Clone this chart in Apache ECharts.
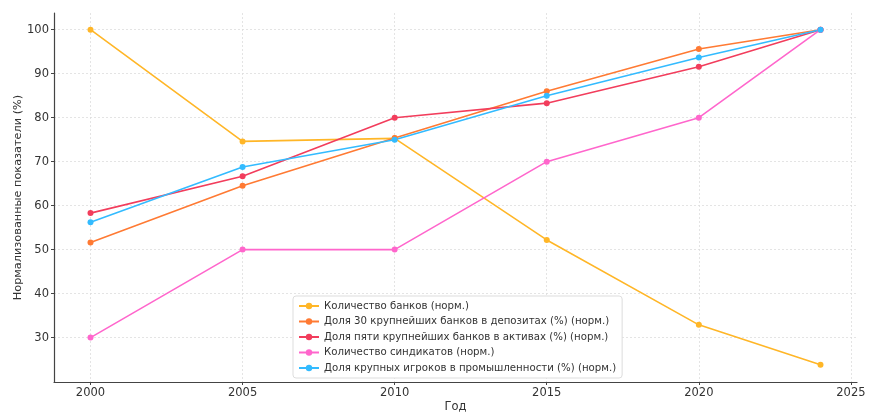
<!DOCTYPE html>
<html><head><meta charset="utf-8">
<script src="https://cdn.jsdelivr.net/npm/echarts@6/dist/echarts.min.js"></script>
<style>html,body{margin:0;padding:0;background:#fff}#c{width:873px;height:413px}</style>
</head><body><div id="c"></div>
<script>
const years = [2000, 2005, 2010, 2015, 2020, 2024];
const banksCount = [100, 74.6, 75.3, 52.2, 32.9, 23.8];
const top30Deposits = [51.6, 64.5, 75.4, 86.0, 95.6, 100];
const top5Assets = [58.3, 66.7, 80.0, 83.3, 91.6, 100];
const syndicates = [30, 50, 50, 70, 80, 100];
const industryLeaders = [56.2, 68.8, 75.0, 85.0, 93.7, 100];
const xTicks = [2000, 2005, 2010, 2015, 2020, 2025];
const yTicks = [30, 40, 50, 60, 70, 80, 90, 100];

const names = [
  'Количество банков (норм.)',
  'Доля 30 крупнейших банков в депозитах (%) (норм.)',
  'Доля пяти крупнейших банков в активах (%) (норм.)',
  'Количество синдикатов (норм.)',
  'Доля крупных игроков в промышленности (%) (норм.)'
];
const colors = ['#FFB627', '#FF7A33', '#F23D5C', '#FF66CC', '#33BBFF'];
const seriesData = [banksCount, top30Deposits, top5Assets, syndicates, industryLeaders];

const font = 'DejaVu Sans';
const chart = echarts.init(document.getElementById('c'), null, {renderer: 'canvas'});
chart.setOption({
  animation: false,
  textStyle: {fontFamily: font},
  grid: {left: 54, right: 16, top: 13, bottom: 31, containLabel: false, outerBoundsMode: 'none'},
  xAxis: {
    type: 'value', min: 1998.8, max: 2025.2,
    name: 'Год', nameLocation: 'middle', nameGap: 19, nameMoveOverlap: false,
    nameTextStyle: {fontFamily: font, fontSize: 11.5, color: '#333'},
    axisLine: {show: true, lineStyle: {color: '#444', width: 1.2}},
    axisTick: {show: true, customValues: xTicks, length: 3, lineStyle: {color: '#444'}},
    axisLabel: {customValues: xTicks, fontFamily: font, fontSize: 11.5, color: '#333', margin: 5, formatter: v => String(v)},
    splitLine: {show: true, lineStyle: {color: '#ddd', type: [2, 2], width: 0.8}}
  },
  yAxis: {
    type: 'value', min: 19.9, max: 103.8,
    name: 'Нормализованные показатели (%)', nameLocation: 'middle', nameGap: 30, nameMoveOverlap: false,
    nameTextStyle: {fontFamily: font, fontSize: 11.3, color: '#333'},
    axisLine: {show: true, lineStyle: {color: '#444', width: 1.2}},
    axisTick: {show: true, customValues: yTicks, length: 3, lineStyle: {color: '#444'}},
    axisLabel: {customValues: yTicks, fontFamily: font, fontSize: 11.5, color: '#333', margin: 5},
    splitLine: {show: true, lineStyle: {color: '#ddd', type: [2, 2], width: 0.8}}
  },
  legend: {
    orient: 'vertical', left: 293, top: 296,
    backgroundColor: '#fff', borderColor: '#ddd', borderWidth: 1, borderRadius: 3,
    padding: [4, 6, 4, 5], itemGap: 3.5, itemWidth: 20, itemHeight: 8,
    textStyle: {fontFamily: font, fontSize: 10.2, lineHeight: 12, color: '#333'},
    data: names
  },
  series: names.map((n, i) => ({
    name: n, type: 'line', color: colors[i],
    data: years.map((y, j) => [y, seriesData[i][j]]),
    symbol: 'circle', symbolSize: 6,
    lineStyle: {width: 1.6}, itemStyle: {color: colors[i]}
  }))
});
</script></body></html>
